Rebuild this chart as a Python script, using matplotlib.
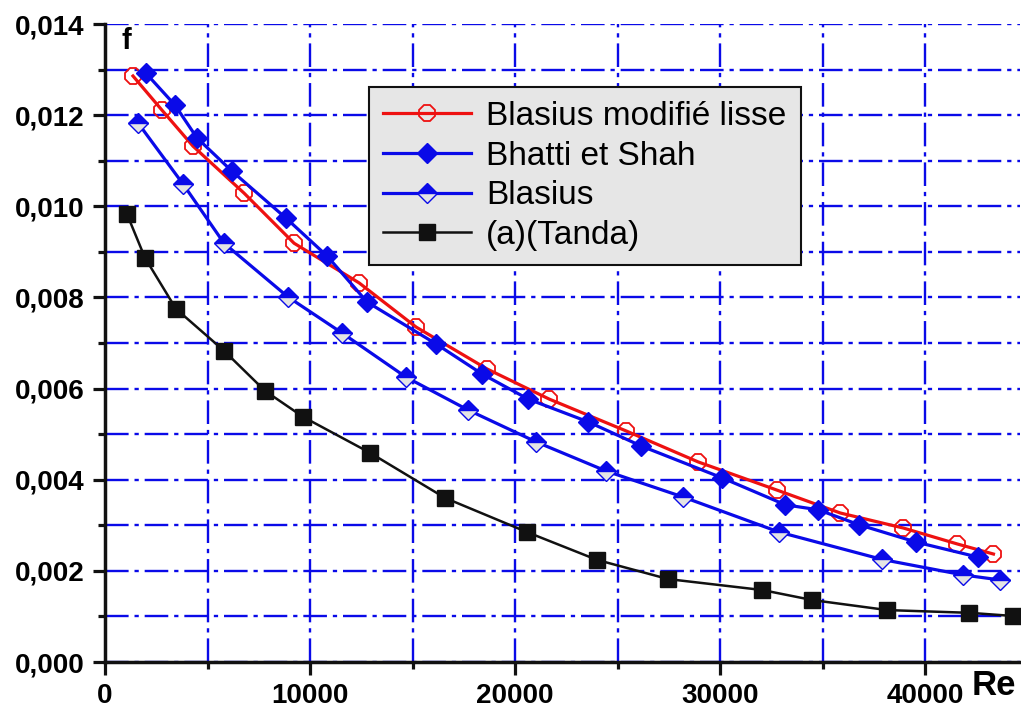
import matplotlib.pyplot as plt
from matplotlib.ticker import MultipleLocator, FuncFormatter

plt.rcParams['font.family'] = ['Liberation Sans', 'DejaVu Sans']

# Blasius modifie lisse (red, open markers)
re_bml = [1366, 2780, 4293, 6780, 9220, 12390, 15171, 18634, 21659, 25415,
          28927, 32780, 35854, 38927, 41561, 43317]
f_bml = [0.01286, 0.01211, 0.01132, 0.01029, 0.00919, 0.00832, 0.00735, 0.00643,
         0.00577, 0.00507, 0.00439, 0.00377, 0.00327, 0.00294, 0.00259, 0.00237]

# Bhatti et Shah (blue filled diamonds)
re_bs = [2000, 3415, 4488, 6195, 8829, 10829, 12780, 16146, 18390, 20634, 23561,
         26146, 30098, 33171, 34780, 36780, 39561, 42585]
f_bs = [0.01292, 0.01222, 0.01150, 0.01077, 0.00974, 0.00891, 0.00790, 0.00698,
        0.00632, 0.00577, 0.00527, 0.00474, 0.00404, 0.00345, 0.00334, 0.00301,
        0.00263, 0.00230]

# Blasius (blue half-filled diamonds)
re_bl = [1610, 3805, 5805, 8927, 11561, 14683, 17707, 21024, 24439, 28195,
         32878, 37902, 41854, 43658]
f_bl = [0.01183, 0.01049, 0.00919, 0.00801, 0.00722, 0.00625, 0.00553, 0.00483,
        0.00419, 0.00362, 0.00285, 0.00225, 0.00191, 0.00180]

# (a)(Tanda) (black squares)
re_ta = [1073, 1951, 3463, 5805, 7805, 9659, 12927, 16585, 20585, 24000, 27463,
         32049, 34488, 38146, 42146, 44293]
f_ta = [0.00983, 0.00887, 0.00775, 0.00683, 0.00595, 0.00538, 0.00459, 0.00360,
        0.00285, 0.00224, 0.00182, 0.00158, 0.00136, 0.00114, 0.00108, 0.00101]

blue = '#0a0ae8'

fig = plt.figure(figsize=(10.21, 7.07), dpi=100)
ax = fig.add_axes([0.1028, 0.0636, 0.896, 0.9024])

ax.plot(re_bml, f_bml, color='#ee1111', lw=2.3, marker='8', ms=12.5,
        mfc='none', mec='#ee1111', mew=1.3, label='Blasius modifié lisse', zorder=4)
ax.plot(re_bs, f_bs, color=blue, lw=2.3, marker='D', ms=10.5,
        mfc=blue, mec=blue, label='Bhatti et Shah', zorder=5)
ax.plot(re_bl, f_bl, color=blue, lw=2.3, marker='D', ms=10, fillstyle='top',
        mfc=blue, mfcalt='#e4e4e4', mec=blue, mew=1.0, label='Blasius', zorder=5)
ax.plot(re_ta, f_ta, color='#111111', lw=1.8, marker='s', ms=11,
        mfc='#111111', mec='#111111', label='(a)(Tanda)', zorder=5)

ax.set_xlim(0, 44600)
ax.set_ylim(0, 0.014)
ax.xaxis.set_major_locator(MultipleLocator(10000))
ax.xaxis.set_minor_locator(MultipleLocator(5000))
ax.yaxis.set_major_locator(MultipleLocator(0.002))
ax.yaxis.set_minor_locator(MultipleLocator(0.001))
ax.yaxis.set_major_formatter(FuncFormatter(lambda v, p: f'{v:.3f}'.replace('.', ',')))
ax.xaxis.set_major_formatter(FuncFormatter(lambda v, p: f'{int(round(v))}'))

ax.grid(which='both', color=blue, lw=1.7, linestyle=(0, (10, 2.5, 1.8, 2.5)), zorder=1)
ax.set_axisbelow(True)

for s in ['top', 'right']:
    ax.spines[s].set_visible(False)
for s in ['left', 'bottom']:
    ax.spines[s].set_linewidth(2.5)
    ax.spines[s].set_color('#111111')

ax.tick_params(which='major', length=9, width=2.3, pad=6, labelsize=20, color='#111111')
ax.tick_params(which='minor', length=5, width=2.3, color='#111111')
for lab in ax.get_xticklabels() + ax.get_yticklabels():
    lab.set_fontweight('bold')

ax.text(0.018, 0.995, 'f', transform=ax.transAxes, fontsize=21, fontweight='bold',
        ha='left', va='top')
fig.text(0.973, 0.031, 'Re', fontsize=25, fontweight='bold', ha='center', va='center')

leg = ax.legend(loc='upper left', bbox_to_anchor=(0.3614, 0.877),
                bbox_transform=fig.transFigure, fontsize=24, fancybox=False,
                facecolor='#e6e6e6', edgecolor='#111111', framealpha=1,
                handlelength=2.65, borderaxespad=0, labelspacing=0.26,
                borderpad=0.42, handletextpad=0.45)
leg.get_frame().set_linewidth(1.5)
leg.set_zorder(10)

fig.savefig('out.png', dpi=100)
